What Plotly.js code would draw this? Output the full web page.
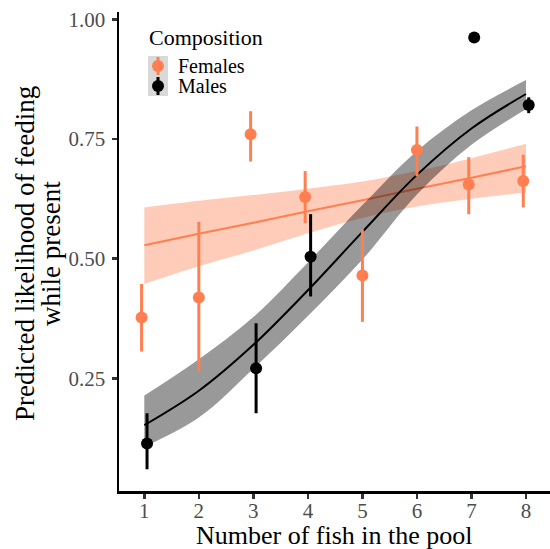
<!DOCTYPE html>
<html>
<head>
<meta charset="utf-8">
<script src="https://cdn.plot.ly/plotly-3.0.1.min.js"></script>
<style>html,body{margin:0;padding:0;background:#fff;}#chart{width:550px;height:549px;}</style>
</head>
<body>
<div id="chart"></div>
<script>
// ---- Data ----
const groups = ["Females", "Males"];

// Observed predicted likelihoods (point ranges)
const femaleN     = [1, 2, 3, 4, 5, 6, 7, 8];
const femaleMean  = [0.377, 0.419, 0.760, 0.629, 0.465, 0.727, 0.655, 0.662];
const femaleLower = [0.306, 0.264, 0.703, 0.574, 0.368, 0.672, 0.593, 0.607];
const femaleUpper = [0.447, 0.577, 0.808, 0.683, 0.561, 0.776, 0.712, 0.717];

const maleN     = [1, 3, 4, 7, 8];
const maleMean  = [0.114, 0.271, 0.504, 0.962, 0.821];
const maleLower = [0.060, 0.177, 0.421, 0.962, 0.804];
const maleUpper = [0.177, 0.365, 0.593, 0.962, 0.837];

// Fitted curves with confidence bands
const fitN        = [1, 2, 3, 4, 5, 6, 7, 8];
const femaleFit   = [0.528, 0.552, 0.575, 0.599, 0.622, 0.646, 0.669, 0.693];
const femaleFitLo = [0.447, 0.484, 0.517, 0.553, 0.585, 0.609, 0.625, 0.638];
const femaleFitHi = [0.607, 0.621, 0.633, 0.646, 0.661, 0.683, 0.710, 0.740];
const maleFit     = [0.152, 0.224, 0.320, 0.434, 0.556, 0.675, 0.772, 0.844];
const maleFitLo   = [0.107, 0.168, 0.270, 0.380, 0.498, 0.634, 0.738, 0.812];
const maleFitHi   = [0.214, 0.290, 0.378, 0.492, 0.612, 0.725, 0.810, 0.873];

const xTicks = [1, 2, 3, 4, 5, 6, 7, 8];
const yTicks = [0.25, 0.50, 0.75, 1.00];
const yTickText = ["0.25", "0.50", "0.75", "1.00"];

// ---- Styling ----
const CORAL = "#FF7F50";
const FONT = "Liberation Serif";
const W = 550, H = 549;
const M = {l: 119, r: 0, t: 12, b: 58};
const PW = W - M.l - M.r, PH = H - M.t - M.b;
const px = v => (v - M.l) / PW;      // pixel -> paper x
const py = v => 1 - (v - M.t) / PH;  // pixel -> paper y

// dodge: where both groups share an n, shift apart
const DODGE = 0.05;
const femaleX = femaleN.map(n => maleN.includes(n) ? n - DODGE : n);
const maleX = maleN.map(n => femaleN.includes(n) ? n + DODGE : n);

const diff = (a, b) => a.map((v, i) => v - b[i]);

const traces = [
  // female band
  {x: fitN, y: femaleFitLo, mode: "lines", line: {width: 0, shape: "spline"}, showlegend: false, hoverinfo: "skip"},
  {x: fitN, y: femaleFitHi, mode: "lines", line: {width: 0, shape: "spline"}, fill: "tonexty",
   fillcolor: "rgba(255,127,80,0.4)", showlegend: false, hoverinfo: "skip"},
  {x: fitN, y: femaleFit, mode: "lines", line: {color: CORAL, width: 2, shape: "spline"}, showlegend: false},
  // male band
  {x: fitN, y: maleFitLo, mode: "lines", line: {width: 0, shape: "spline"}, showlegend: false, hoverinfo: "skip"},
  {x: fitN, y: maleFitHi, mode: "lines", line: {width: 0, shape: "spline"}, fill: "tonexty",
   fillcolor: "rgba(0,0,0,0.4)", showlegend: false, hoverinfo: "skip"},
  {x: fitN, y: maleFit, mode: "lines", line: {color: "#000000", width: 2, shape: "spline"}, showlegend: false},
  // point ranges
  {x: femaleX, y: femaleMean, name: groups[0], mode: "markers",
   marker: {color: CORAL, size: 12},
   error_y: {type: "data", symmetric: false, array: diff(femaleUpper, femaleMean),
             arrayminus: diff(femaleMean, femaleLower), color: CORAL, thickness: 3, width: 0},
   showlegend: false},
  {x: maleX, y: maleMean, name: groups[1], mode: "markers",
   marker: {color: "#000000", size: 12},
   error_y: {type: "data", symmetric: false, array: diff(maleUpper, maleMean),
             arrayminus: diff(maleMean, maleLower), color: "#000000", thickness: 3, width: 0},
   showlegend: false}
];

// manual legend (ggplot style)
const keyCx = 158, keyY = [66, 86];
const legendColors = [CORAL, "#000000"];
const shapes = [
  {type: "rect", xref: "paper", yref: "paper", x0: px(148), x1: px(168), y0: py(56), y1: py(96),
   fillcolor: "#D9D9D9", line: {width: 0}, layer: "above"}
];
groups.forEach((g, i) => {
  shapes.push({type: "line", xref: "paper", yref: "paper", x0: px(keyCx), x1: px(keyCx),
    y0: py(keyY[i] - 9), y1: py(keyY[i] + 9), line: {color: legendColors[i], width: 3}, layer: "above"});
  shapes.push({type: "circle", xref: "paper", yref: "paper", xsizemode: "pixel", ysizemode: "pixel",
    xanchor: px(keyCx), yanchor: py(keyY[i]), x0: -6, x1: 6, y0: -6, y1: 6,
    fillcolor: legendColors[i], line: {width: 0}, layer: "above"});
});

const annotations = [
  {xref: "paper", yref: "paper", x: px(147), y: py(37), xanchor: "left", yanchor: "middle",
   text: "Composition", showarrow: false, font: {family: FONT, size: 22, color: "#000"}},
  {xref: "paper", yref: "paper", x: px(177), y: py(keyY[0]), xanchor: "left", yanchor: "middle",
   text: groups[0], showarrow: false, borderpad: 0, font: {family: FONT, size: 20, color: "#000"}},
  {xref: "paper", yref: "paper", x: px(177), y: py(keyY[1]), xanchor: "left", yanchor: "middle",
   text: groups[1], showarrow: false, borderpad: 0, font: {family: FONT, size: 20, color: "#000"}},
  // axis titles
  {xref: "paper", yref: "paper", x: 0.5, y: py(535), xanchor: "center", yanchor: "middle",
   text: "Number of fish in the pool", showarrow: false, font: {family: FONT, size: 26, color: "#000"}},
  {xref: "paper", yref: "paper", x: px(25), y: py(254), xanchor: "center", yanchor: "middle", textangle: -90,
   text: "Predicted likelihood of feeding", showarrow: false, font: {family: FONT, size: 27, color: "#000"}},
  {xref: "paper", yref: "paper", x: px(51), y: py(254), xanchor: "center", yanchor: "middle", textangle: -90,
   text: "while present", showarrow: false, font: {family: FONT, size: 27, color: "#000"}}
];

const axisCommon = {
  showgrid: false, zeroline: false, showline: true, linecolor: "#000", linewidth: 2.5,
  ticks: "outside", ticklen: 5, tickwidth: 2.5, tickcolor: "#333333",
  tickfont: {family: FONT, size: 21, color: "#4D4D4D"}, fixedrange: true
};

const layout = {
  width: W, height: H, margin: {l: M.l, r: M.r, t: M.t, b: M.b, pad: 0},
  paper_bgcolor: "#fff", plot_bgcolor: "#fff", showlegend: false,
  font: {family: FONT},
  xaxis: Object.assign({}, axisCommon, {range: [0.536, 8.44], tickmode: "array", tickvals: xTicks,
    ticktext: xTicks.map(String), ticklabelstandoff: -6}),
  yaxis: Object.assign({}, axisCommon, {range: [0.0146, 1.0153], tickmode: "array", tickvals: yTicks,
    ticktext: yTickText, ticklabelstandoff: 2}),
  shapes: shapes, annotations: annotations
};

Plotly.newPlot("chart", traces, layout, {displayModeBar: false, staticPlot: true});
</script>
</body>
</html>
